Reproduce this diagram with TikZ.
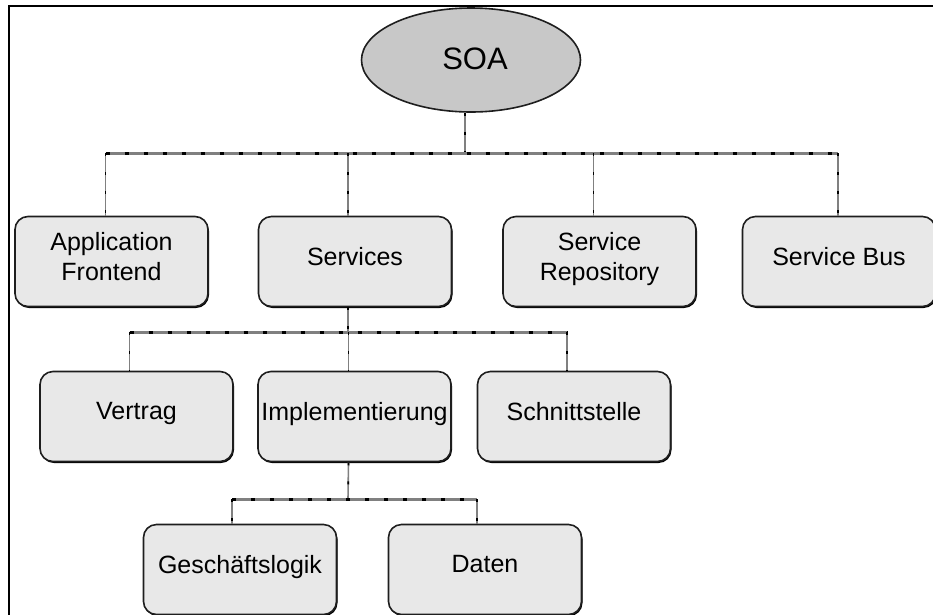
\documentclass[tikz,border=0pt]{standalone}
\usepackage{fontspec}
\setmainfont{Liberation Sans}
\usetikzlibrary{shapes.geometric,shadows}
\definecolor{boxfill}{RGB}{232,232,232}
\definecolor{rootfill}{RGB}{200,200,200}
\definecolor{linkgray}{RGB}{128,128,128}
\definecolor{edge}{RGB}{30,30,30}
\tikzset{
  item/.style={draw=edge, line width=1.6pt, fill=boxfill, rounded corners=13pt,
    minimum width=193pt, minimum height=90pt, inner sep=0pt, align=center,
    text depth=11pt, font=\fontsize{25}{30}\selectfont,
    general shadow={shadow xshift=1pt, shadow yshift=-1.5pt, fill=black}},
  root/.style={ellipse, draw=edge, line width=1.6pt, fill=rootfill,
    minimum width=219pt, minimum height=104pt, inner sep=0pt,
    font=\fontsize{31}{36}\selectfont},
  bar/.style={draw=linkgray, line width=3pt,
    postaction={draw=black, line width=3pt, dash pattern=on 4pt off 15pt}},
  drop/.style={draw=linkgray, line width=1.6pt,
    postaction={draw=black, line width=1.6pt, dash pattern=on 3pt off 16pt}},
}
\begin{document}
\begin{tikzpicture}[x=1pt,y=-1pt]
\useasboundingbox (0,0) rectangle (933,614);
% outer frame, cut by the page on the right and at the bottom
\draw[line width=2pt, black] (9,700) -- (9,6) -- (1000,6);

% root
\node[root, text depth=3pt] (soa) at (471,60) {\hspace*{8pt}SOA};

% first level
\node[item] (af)  at (111.5,261.5) {Application\\Frontend};
\node[item] (srv) at (355,261.5) {Services};
\node[item] (rep) at (599.5,261.5) {Service\\Repository};
\node[item] (bus) at (839,261.5) {Service Bus};

% second level
\node[item] (ver) at (136.5,416.5) {Vertrag};
\node[item] (imp) at (354.5,416.5) {Implementierung};
\node[item] (sch) at (574,416.5) {Schnittstelle};

% third level
\node[item] (ges) at (240,569.5) {Geschäftslogik};
\node[item] (dat) at (485,569.5) {Daten};

% connectors: root to first level
\coordinate (b1) at (465,153);
\path[drop] ([xshift=-6pt]soa.south) -- (b1);
\path[bar] ([xshift=-6pt]af.north |- b1) -- ([xshift=-1pt]bus.north |- b1);
\foreach \n/\dx in {af/-6, srv/-7, rep/-6, bus/-1}
  \path[drop] ([xshift=\dx pt]\n.north |- b1) -- ([xshift=\dx pt]\n.north);

% connectors: Services to second level
\coordinate (b2) at (348,332);
\path[drop] ([xshift=-7pt]srv.south) -- (b2);
\path[bar] ([xshift=-7pt]ver.north |- b2) -- ([xshift=-7pt]sch.north |- b2);
\foreach \n/\dx in {ver/-7, imp/-6, sch/-7}
  \path[drop] ([xshift=\dx pt]\n.north |- b2) -- ([xshift=\dx pt]\n.north);

% connectors: Implementierung to third level
\coordinate (b3) at (348,499);
\path[drop] ([xshift=-6pt]imp.south) -- (b3);
\path[bar] ([xshift=-8pt]ges.north |- b3) -- ([xshift=-8pt]dat.north |- b3);
\foreach \n in {ges, dat}
  \path[drop] ([xshift=-8pt]\n.north |- b3) -- ([xshift=-8pt]\n.north);
\end{tikzpicture}
\end{document}
